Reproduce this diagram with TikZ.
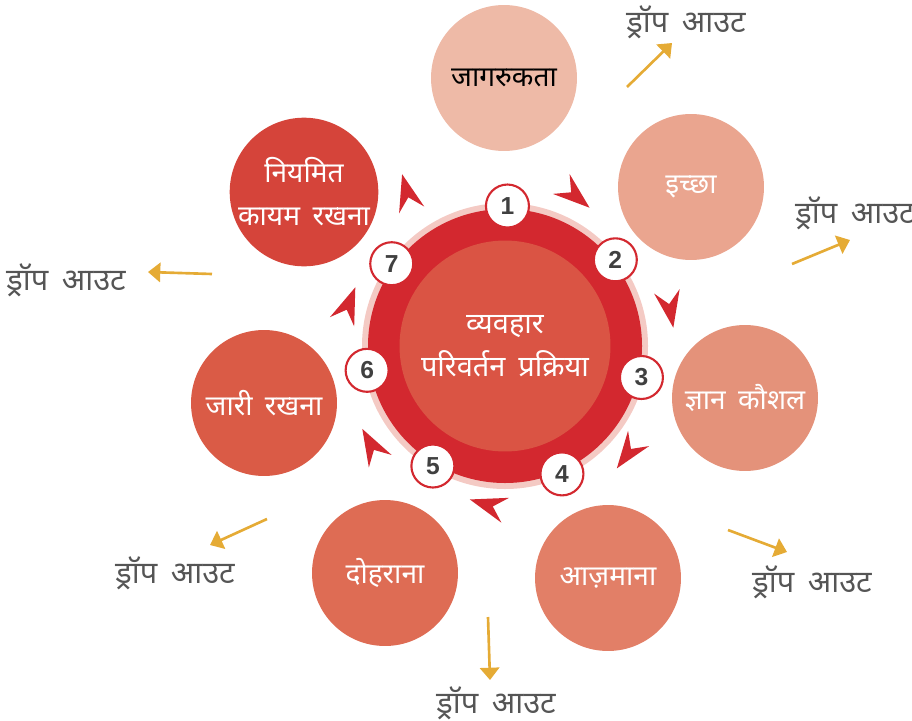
\documentclass[tikz,border=0pt]{standalone}
\usepackage{fontspec}
\setmainfont{Liberation Sans}
\newfontfamily\hindi[Script=Devanagari,WordSpace=1.7]{Noto Sans}
\usepackage{xcolor}
\usetikzlibrary{calc,arrows.meta}

\definecolor{ringred}{HTML}{D3282F}
\definecolor{halo}{HTML}{F4CAC4}
\definecolor{corered}{HTML}{DA5444}
\definecolor{gold}{HTML}{E5AB35}
\definecolor{droptext}{HTML}{555555}
\definecolor{numtext}{HTML}{404040}
\definecolor{stageA}{HTML}{EEBAA7}
\definecolor{stageB}{HTML}{EAA58F}
\definecolor{stageC}{HTML}{E4927A}
\definecolor{stageD}{HTML}{E27F67}
\definecolor{stageE}{HTML}{DE6C54}
\definecolor{stageF}{HTML}{DA5B46}
\definecolor{stageG}{HTML}{D5443A}

\begin{document}
\begin{tikzpicture}[x=0.02cm,y=0.02cm,
  stage/.style={circle,minimum size=2.92cm,inner sep=0pt,align=center,
    text=white,font=\hindi\fontsize{16}{24.5}\selectfont},
  num/.style={circle,draw=ringred,line width=1.2pt,fill=white,minimum size=0.86cm,
    inner sep=0pt,text=numtext,font=\bfseries\fontsize{14}{16}\selectfont},
  dropout/.style={text=droptext,font=\hindi\fontsize{17.5}{20}\selectfont},
  droparrow/.style={gold,line width=1.5pt,-{Triangle[width=11pt,length=7pt]}}]
\useasboundingbox (0,0) rectangle (912,-720);

% Centre of the cycle
\coordinate (O) at (505,-346);

% Halo, ring and core
\fill[halo] (O) circle (143);
\fill[ringred] (O) circle (137);
\node[circle,fill=corered,minimum size=4.22cm,inner sep=0pt,align=center,text=white,
  font=\hindi\fontsize{16.5}{24.5}\selectfont] (core) at (O) {व्यवहार\\परिवर्तन प्रक्रिया};

% Numbered markers on the ring
\foreach \i/\a in {1/89, 2/38, 3/-13, 4/-66, 5/-121, 6/190, 7/144} {
  \node[num] (n\i) at ($(O)+(\a:140)$) {\i};
}

% The seven stages
\node[stage,fill=stageA,text=black] (s1) at (504,-78) {जागरुकता};
\node[stage,fill=stageB] (s2) at (691,-187) {इच्छा};
\node[stage,fill=stageC] (s3) at (745,-398) {ज्ञान कौशल};
\node[stage,fill=stageD] (s4) at (608,-578) {आज़माना};
\node[stage,fill=stageE] (s5) at (385,-573) {दोहराना};
\node[stage,fill=stageF] (s6) at (264,-403) {जारी रखना};
\node[stage,fill=stageG] (s7) at (304,-192) {नियमित\\कायम रखना};

% Chevrons between the stages
\foreach \x/\y/\a in {575/-195.5/-40, 670/-309/-80, 628/-453/-126, 488/-505/163,
                      371.5/-445.5/119, 348.5/-305/69, 407/-192.5/105} {
  \fill[ringred,shift={(\x,\y)},rotate=\a] (19,0) -- (-18,13) -- (-5,0) -- (-18,-13) -- cycle;
}

% Drop out arrows
\foreach \n/\sx/\sy/\ex/\ey/\lx/\ly in {1/627/-87/672/-43/686/-22,
    2/792/-264/850/-240/855/-213, 3/212/-274/148/-272/66/-280,
    4/267/-519/210/-545/175/-573, 5/488/-617/490/-680/496/-703,
    6/728/-530/787/-552/812/-582} {
  \coordinate (ds\n) at (\sx,\sy);
  \coordinate (de\n) at (\ex,\ey);
  \node[dropout] (drop\n) at (\lx,\ly) {ड्रॉप आउट};
  \draw[droparrow] (ds\n) -- (de\n);
}

\end{tikzpicture}
\end{document}
